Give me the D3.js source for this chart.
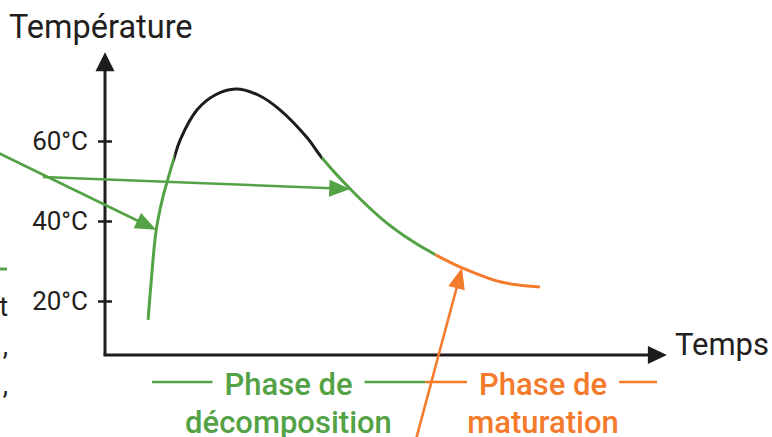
<!DOCTYPE html>
<html>
<head>
<meta charset="utf-8">
<script src="https://cdn.jsdelivr.net/npm/d3@7"></script>
<style>
html, body { margin: 0; padding: 0; background: #fff; }
svg { display: block; font-family: Roboto, "Noto Sans", sans-serif; }
</style>
</head>
<body>
<svg id="chart" width="772" height="437"></svg>
<script>
// temperature curve of a compost heap: time (arbitrary units), temperature (°C)
var times = [7.9, 8.5, 9.4, 10.5, 11.4, 12.7, 13.8, 16.9, 20.2, 24.0, 28.1, 32.1, 37.1, 39.8, 45.0, 51.0, 56.0, 60.6, 65.5, 72.5, 79.8];
var temps = [15.3, 25.3, 37.8, 45.3, 49.8, 55.8, 60.3, 67.8, 71.5, 73.0, 71.5, 67.8, 60.8, 55.8, 48.0, 40.3, 35.3, 31.6, 28.3, 24.8, 23.5];

// where each colour of the curve starts / ends (time)
var segStart = [0, 12.7, 39.8, 60.6];
var segEnd = [12.7, 39.8, 60.6, 100];
var segKind = ["decomp", "hot", "decomp", "matur"];

var tempTicks = [20, 40, 60];
var tickLabels = ["20°C", "40°C", "60°C"];

// pointer arrows (from -> to, in time / temperature)
var pointerFrom = [[-20, 57.3], [-11.4, 51], [56, -20]];
var pointerTo = [[9.4, 37.8], [45.0, 48.0], [65.5, 28.3]];
var pointerKind = ["decomp", "decomp", "matur"];

var phaseTitles = [["Phase de", "décomposition"], ["Phase de", "maturation"]];
var phaseKind = ["decomp", "matur"];

var colors = { decomp: "#54a246", hot: "#1e1c1c", matur: "#f47a2c" };
var ink = "#231f20";

var svg = d3.select("#chart");

var x = d3.scaleLinear().domain([0, 100]).range([105, 650]);
var y = d3.scaleLinear().domain([20, 60]).range([301, 141]);

var xAxisEnd = 103.1, yAxisBottom = 6.5, yAxisTop = 82.2;

function arrowHead(g, tip, from, len, wid, color) {
  var dx = tip[0] - from[0], dy = tip[1] - from[1];
  var d = Math.sqrt(dx * dx + dy * dy);
  var ux = dx / d, uy = dy / d;
  var bx = tip[0] - ux * len, by = tip[1] - uy * len;
  g.append("path")
    .attr("d", "M" + tip[0] + "," + tip[1] +
      "L" + (bx - uy * wid / 2) + "," + (by + ux * wid / 2) +
      "L" + (bx + uy * wid / 2) + "," + (by - ux * wid / 2) + "Z")
    .attr("fill", color);
  return [tip[0] - ux * len * 0.6, tip[1] - uy * len * 0.6];
}

// axes
var axes = svg.append("g");
var yTip = [x(0), y(yAxisTop)], yBase = [x(0), y(yAxisBottom)];
var yStop = arrowHead(axes, yTip, yBase, 19, 19, colors.hot);
axes.append("line")
  .attr("x1", yBase[0]).attr("y1", yBase[1])
  .attr("x2", yStop[0]).attr("y2", yStop[1])
  .attr("stroke", colors.hot).attr("stroke-width", 3);

var xTip = [x(xAxisEnd), y(yAxisBottom)];
var xStop = arrowHead(axes, xTip, [x(0), y(yAxisBottom)], 19, 18, colors.hot);
axes.append("line")
  .attr("x1", x(0) - 1.5).attr("y1", y(yAxisBottom))
  .attr("x2", xStop[0]).attr("y2", xStop[1])
  .attr("stroke", colors.hot).attr("stroke-width", 3);

var yAxis = svg.append("g")
  .attr("transform", "translate(" + x(0) + ",0)")
  .call(d3.axisLeft(y).tickValues(tempTicks)
    .tickFormat(function(d, i) { return tickLabels[i]; })
    .tickSize(7).tickPadding(10));
yAxis.select(".domain").remove();
yAxis.selectAll(".tick line")
  .attr("x1", -7).attr("x2", 7)
  .attr("stroke", colors.hot).attr("stroke-width", 2.5);
yAxis.selectAll(".tick text")
  .attr("x", -17).attr("dy", "0.34em")
  .attr("fill", ink)
  .style("font-family", "Roboto, sans-serif")
  .style("font-size", "26px");

svg.append("text")
  .attr("x", 9).attr("y", 38)
  .attr("fill", ink)
  .style("font-size", "32.5px")
  .text("Température");

svg.append("text")
  .attr("x", 675).attr("y", 355)
  .attr("fill", ink)
  .style("font-size", "31px")
  .text("Temps");

// curve, one clip per phase colour
var pts = times.map(function(t, i) { return [t, temps[i]]; });
var line = d3.line()
  .x(function(d) { return x(d[0]); })
  .y(function(d) { return y(d[1]); })
  .curve(d3.curveCatmullRom.alpha(0.5));

var defs = svg.append("defs");
segStart.forEach(function(s, i) {
  defs.append("clipPath").attr("id", "seg" + i)
    .append("rect")
    .attr("x", x(s)).attr("y", 0)
    .attr("width", x(segEnd[i]) - x(s)).attr("height", 437);
  svg.append("path")
    .datum(pts)
    .attr("d", line)
    .attr("clip-path", "url(#seg" + i + ")")
    .attr("fill", "none")
    .attr("stroke", colors[segKind[i]])
    .attr("stroke-width", 3);
});

// pointer arrows
pointerFrom.forEach(function(f, i) {
  var from = [x(f[0]), y(f[1])];
  var tip = [x(pointerTo[i][0]), y(pointerTo[i][1])];
  var c = colors[pointerKind[i]];
  var stop = arrowHead(svg, tip, from, 21, 17, c);
  svg.append("line")
    .attr("x1", from[0]).attr("y1", from[1])
    .attr("x2", stop[0]).attr("y2", stop[1])
    .attr("stroke", c).attr("stroke-width", 2.6);
});

// phase legend under the time axis
var legendSpan = [[152, 425], [425, 657]];
phaseTitles.forEach(function(lines, i) {
  var c = colors[phaseKind[i]];
  var x0 = legendSpan[i][0], x1 = legendSpan[i][1];
  var cx = (x0 + x1) / 2 + (i ? 2 : 0);
  var g = svg.append("g");
  var t1 = g.append("text")
    .attr("x", cx).attr("y", 395)
    .attr("text-anchor", "middle")
    .attr("fill", c)
    .style("font-size", "31px").style("font-weight", 500)
    .text(lines[0]);
  g.append("text")
    .attr("x", cx).attr("y", 433)
    .attr("text-anchor", "middle")
    .attr("fill", c)
    .style("font-size", "31px").style("font-weight", 500)
    .text(lines[1]);
  var w = t1.node().getComputedTextLength();
  g.append("line")
    .attr("x1", x0).attr("x2", cx - w / 2 - 12)
    .attr("y1", 382).attr("y2", 382)
    .attr("stroke", c).attr("stroke-width", 2.6);
  g.append("line")
    .attr("x1", cx + w / 2 + 12).attr("x2", x1)
    .attr("y1", 382).attr("y2", 382)
    .attr("stroke", c).attr("stroke-width", 2.6);
});

// cut-off bits of the neighbouring text block on the left
svg.append("line")
  .attr("x1", -5).attr("x2", 7).attr("y1", 269).attr("y2", 269)
  .attr("stroke", colors.decomp).attr("stroke-width", 3);
var leftBits = ["t", ",", ","];
leftBits.forEach(function(s, i) {
  svg.append("text")
    .attr("x", 8).attr("y", 316 + i * 39)
    .attr("text-anchor", "end")
    .attr("fill", ink)
    .style("font-size", "27px")
    .text(s);
});
</script>
</body>
</html>
